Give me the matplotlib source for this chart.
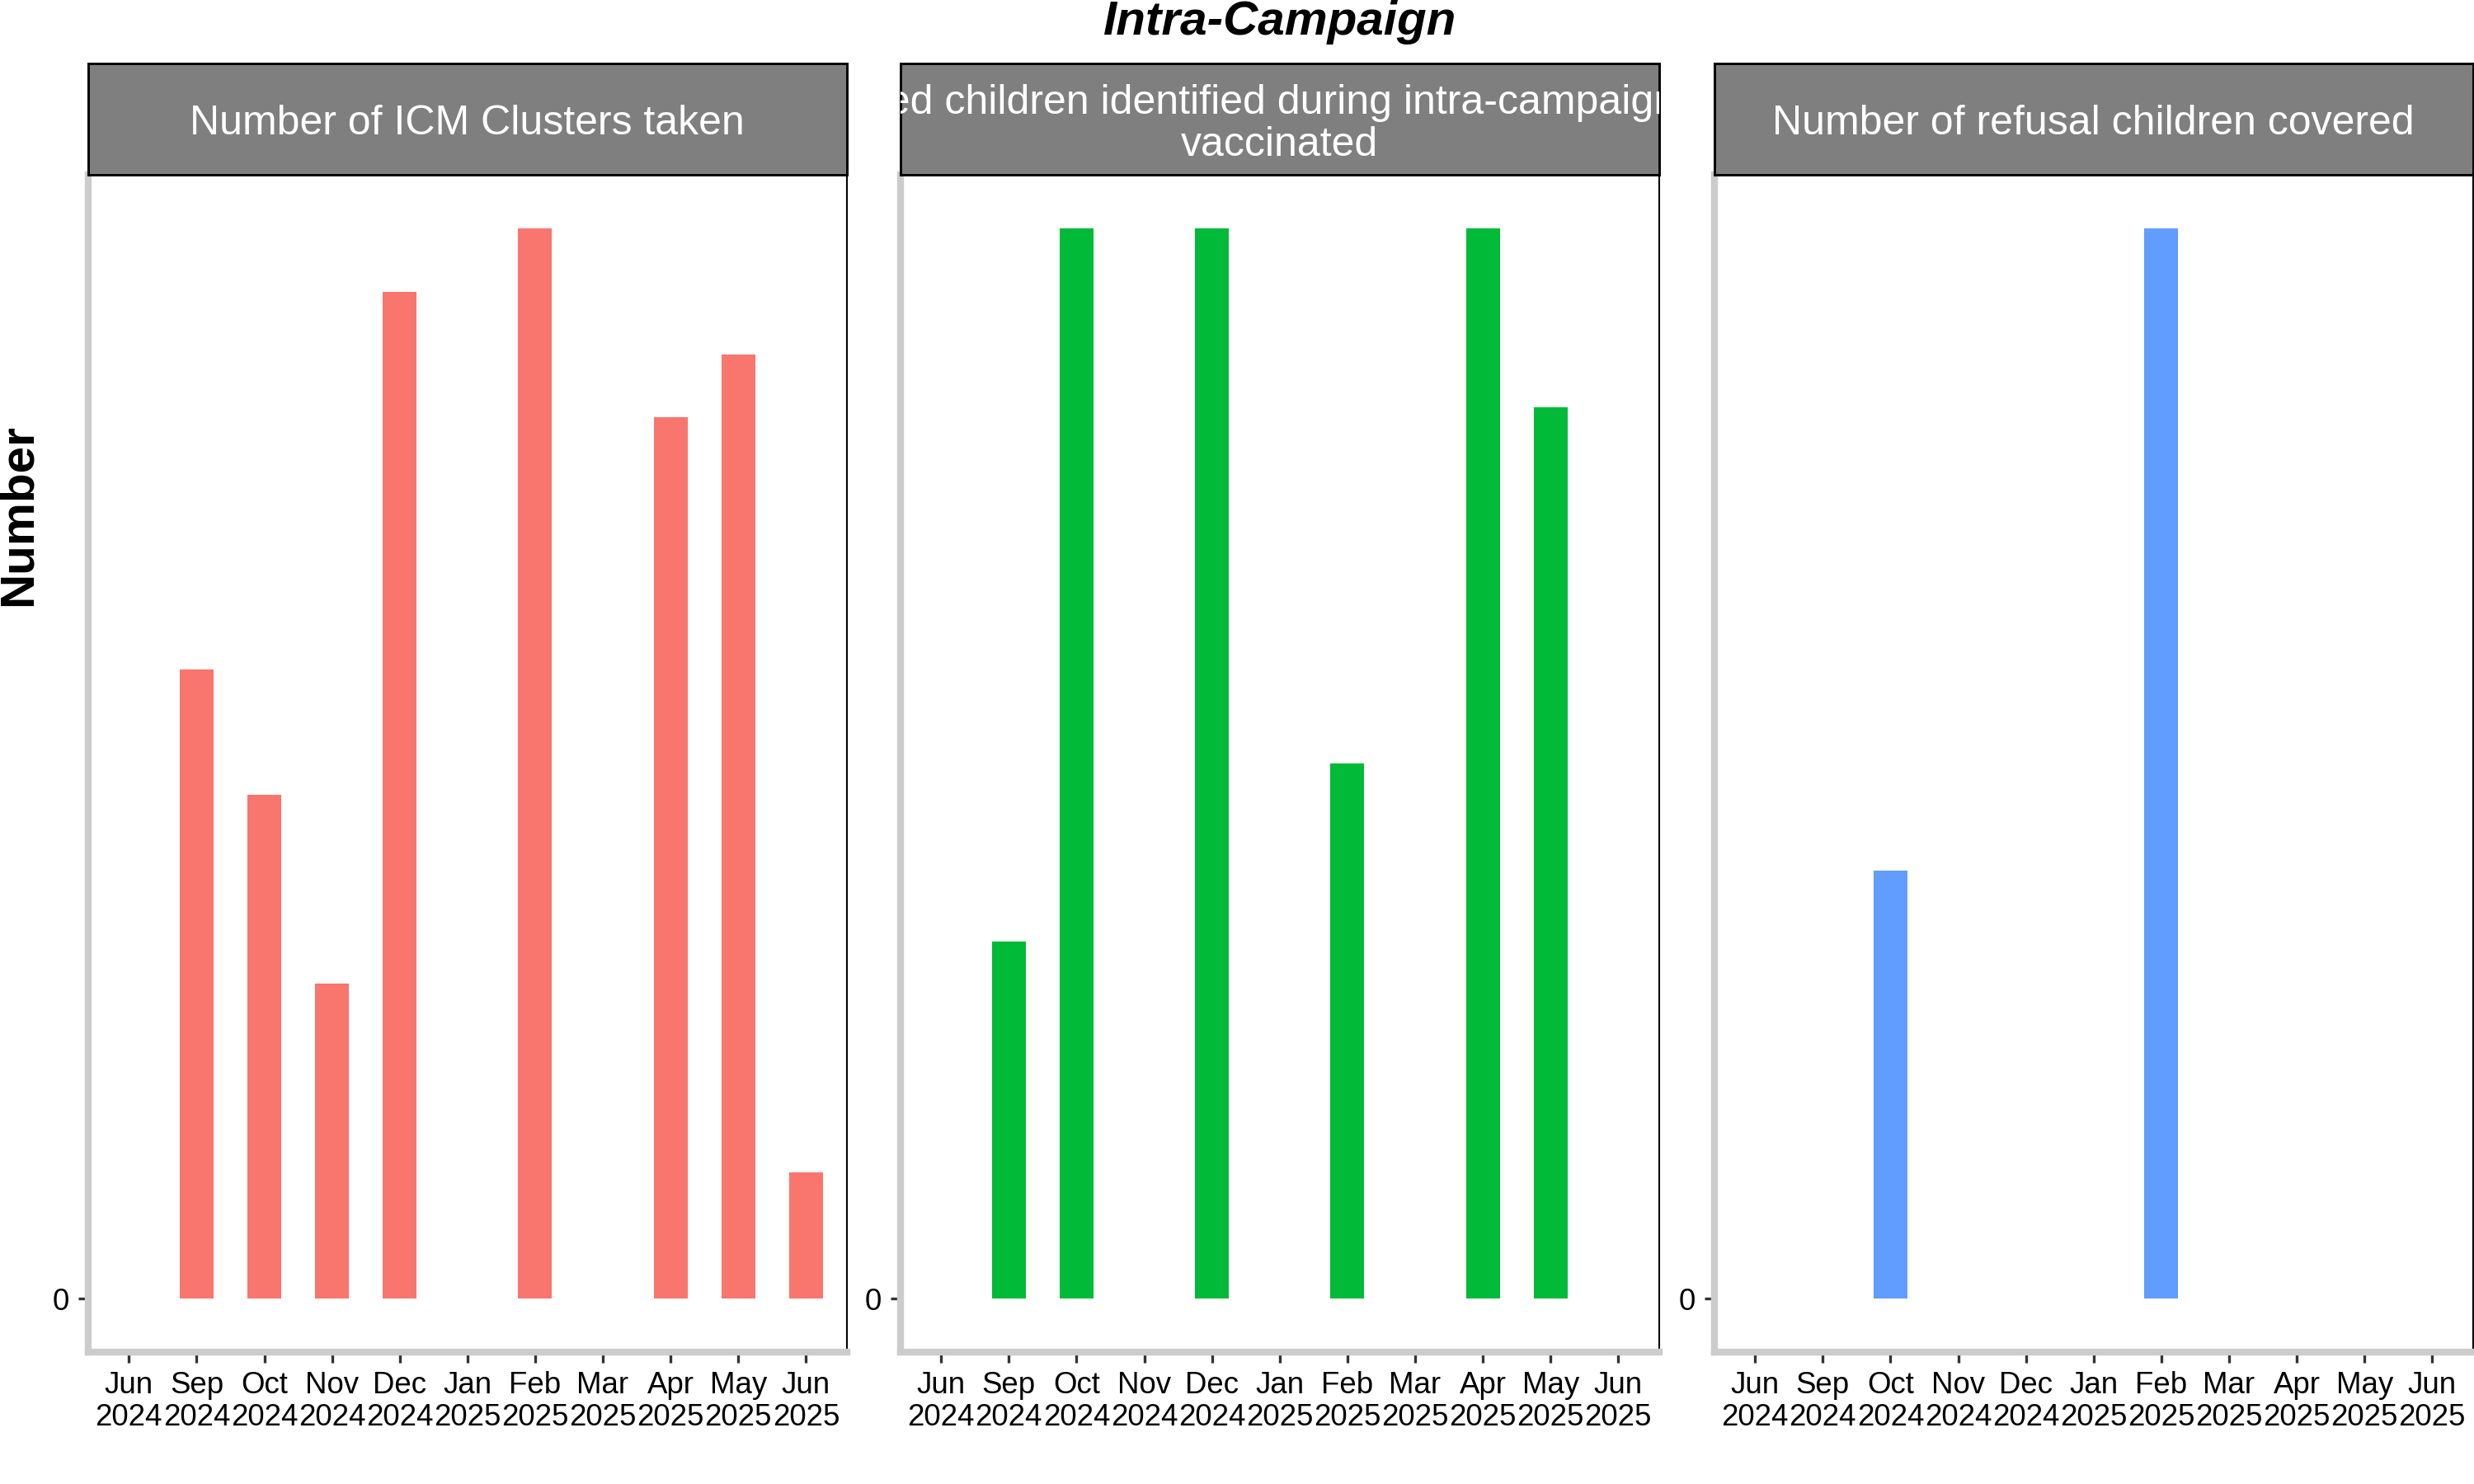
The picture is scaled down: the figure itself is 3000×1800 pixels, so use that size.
import matplotlib
matplotlib.use("Agg")
import matplotlib.pyplot as plt
import numpy as np

plt.rcParams['font.family'] = ['Liberation Sans', 'DejaVu Sans']

months = ["Jun\n2024", "Sep\n2024", "Oct\n2024", "Nov\n2024", "Dec\n2024", "Jan\n2025",
          "Feb\n2025", "Mar\n2025", "Apr\n2025", "May\n2025", "Jun\n2025"]

titles = ["Number of ICM Clusters taken",
          "Missed children identified during intra-campaign and\nvaccinated",
          "Number of refusal children covered"]

# values per month (None = no bar)
icm_clusters = [None, 10, 8, 5, 16, None, 17, None, 14, 15, 2]
missed_vaccinated = [None, 2, 6, None, 6, None, 3, None, 6, 5, None]
refusal_covered = [None, None, 2, None, None, None, 5, None, None, None, None]

series = [icm_clusters, missed_vaccinated, refusal_covered]
colors = ["#F8766D", "#00BA38", "#619CFF"]

fig = plt.figure(figsize=(10, 6), dpi=300)

lefts = [0.0357, 0.364, 0.693]
width = 0.3065
bottom = 0.0889
top = 0.882
strip_top = 0.957

x = np.arange(len(months))
for i in range(3):
    ax = fig.add_axes([lefts[i], bottom, width, top - bottom])
    vals = series[i]
    xs = [xi for xi, v in zip(x, vals) if v is not None]
    hs = [v for v in vals if v is not None]
    ax.bar(xs, hs, width=0.5, color=colors[i], zorder=2)
    vmax = max(hs)
    ax.set_ylim(-0.05 * vmax, vmax * 1.05)
    ax.set_xlim(-0.6, len(months) - 1 + 0.6)
    ax.set_yticks([0])
    ax.set_yticklabels(["0"], fontsize=8.8)
    ax.set_xticks(x)
    ax.set_xticklabels(months, fontsize=8.8, linespacing=1.15)
    ax.tick_params(axis='both', color='#333333', length=3, width=0.8, labelcolor='black', pad=2.5)
    for s in ['left', 'bottom']:
        ax.spines[s].set_color('#CCCCCC')
        ax.spines[s].set_linewidth(2.0)
    for s in ['right', 'top']:
        ax.spines[s].set_color('black')
        ax.spines[s].set_linewidth(0.5)
    ax.set_facecolor('white')

    sax = fig.add_axes([lefts[i], top, width, strip_top - top])
    sax.set_facecolor('#7F7F7F')
    sax.set_xticks([])
    sax.set_yticks([])
    for s in sax.spines.values():
        s.set_color('black')
        s.set_linewidth(0.7)
    sax.set_xlim(0, 1)
    sax.set_ylim(0, 1)
    sax.text(0.5, 0.46, titles[i], ha='center', va='center', color='white',
             fontsize=12, linespacing=1.13, clip_on=True)

fig.text(0.5172, 0.985, "Intra-Campaign", ha='center', va='center', fontsize=14,
         fontweight='bold', fontstyle='italic')
fig.text(0.0077, 0.653, "Number", ha='center', va='center', rotation=90, fontsize=14,
         fontweight='bold')

fig.savefig("out.png", dpi=300, facecolor='white')
